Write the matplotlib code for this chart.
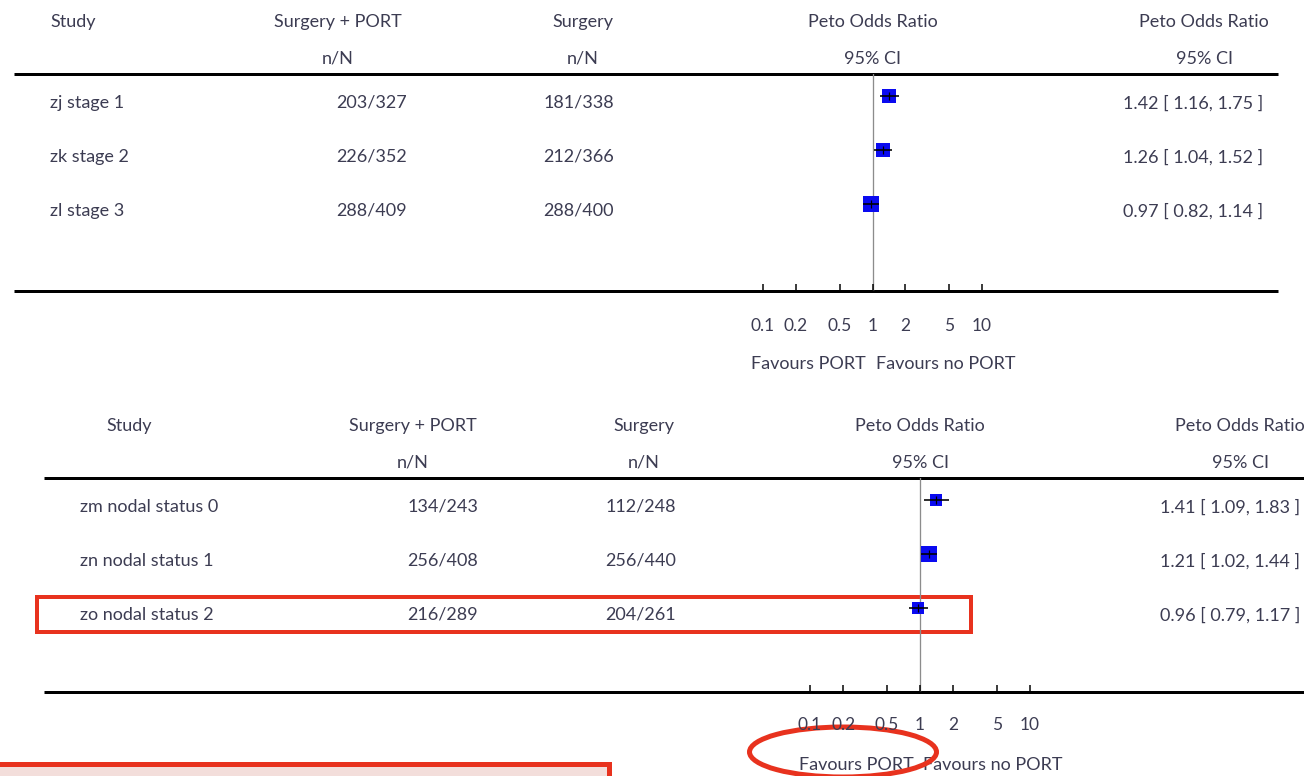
import numpy as np
import matplotlib
matplotlib.use("Agg")
import matplotlib.pyplot as plt
from matplotlib.patches import Rectangle, Ellipse

# ---- data -------------------------------------------------------------
stage_labels = ["zj stage 1", "zk stage 2", "zl stage 3"]
stage_port_n = [203, 226, 288]
stage_port_N = [327, 352, 409]
stage_surg_n = [181, 212, 288]
stage_surg_N = [338, 366, 400]
stage_or = [1.42, 1.26, 0.97]
stage_lo = [1.16, 1.04, 0.82]
stage_hi = [1.75, 1.52, 1.14]

nodal_labels = ["zm nodal status 0", "zn nodal status 1", "zo nodal status 2"]
nodal_port_n = [134, 256, 216]
nodal_port_N = [243, 408, 289]
nodal_surg_n = [112, 256, 204]
nodal_surg_N = [248, 440, 261]
nodal_or = [1.41, 1.21, 0.96]
nodal_lo = [1.09, 1.02, 0.79]
nodal_hi = [1.83, 1.44, 1.17]

tick_values = [0.1, 0.2, 0.5, 1, 2, 5, 10]
tick_labels = ["0.1", "0.2", "0.5", "1", "2", "5", "10"]

# ---- styling ----------------------------------------------------------
W, H, DPI = 1304, 776, 100
PT = 72.0 / DPI          # points per pixel
TXT = "#3c3c52"
RED = "#e8321e"
BLUE = "#0a0af0"
plt.rcParams["font.family"] = ["Lato", "DejaVu Sans"]
FS = 13
DY = 2                   # baseline nudge for vertically centred text

fig = plt.figure(figsize=(W / DPI, H / DPI), dpi=DPI)
canvas = fig.add_axes([0, 0, 1, 1])
canvas.set_xlim(0, W)
canvas.set_ylim(H, 0)
canvas.axis("off")


def txt(x, y, s, ha="center", size=FS):
    canvas.text(x, y + DY, s, ha=ha, va="center", color=TXT, fontsize=size)


def panel(layout, labels, pn, pN, sn, sN, orv, lo, hi):
    L = layout
    top, axis_y = L["line"], L["axis"]
    pitch = 54

    # header
    txt(L["study_hx"], top - 54, "Study", ha=L["study_ha"])
    txt(L["c1"], top - 54, "Surgery + PORT")
    txt(L["c1"], top - 17, "n/N")
    txt(L["c2"], top - 54, "Surgery")
    txt(L["c2"], top - 17, "n/N")
    txt(L["orx"], top - 54, "Peto Odds Ratio")
    txt(L["orx"], top - 17, "95% CI")
    txt(L["c4"], top - 54, "Peto Odds Ratio")
    txt(L["c4"], top - 17, "95% CI")
    canvas.plot([L["x0"], L["x1"]], [top, top], color="black", lw=3 * PT,
                solid_capstyle="butt")
    canvas.plot([L["x0"], L["x1"]], [axis_y, axis_y], color="black", lw=3 * PT,
                solid_capstyle="butt")

    # text rows
    for i in range(len(labels)):
        y = top + 27 + i * pitch
        txt(L["study_x"], y, labels[i], ha="left")
        txt(L["c1n"], y, f"{pn[i]}/{pN[i]}", ha="right")
        txt(L["c2n"], y, f"{sn[i]}/{sN[i]}", ha="right")
        txt(L["c4n"], y, f"{orv[i]:.2f} [ {lo[i]:.2f}, {hi[i]:.2f} ]", ha="right")

    # forest axes (log scale, 0.1..10)
    dec = L["decade"]
    xl = (L["orx"] - dec) / W
    xw = 2 * dec / W
    hgt = axis_y - top
    ax = fig.add_axes([xl, 1 - axis_y / H, xw, hgt / H])
    ax.set_xscale("log")
    ax.set_xlim(0.1, 10)
    ax.set_ylim((hgt - 22) / pitch, -22 / pitch)
    ax.patch.set_alpha(0)
    for s in ax.spines.values():
        s.set_visible(False)
    ax.set_yticks([])
    ax.set_xticks(tick_values)
    ax.set_xticklabels(tick_labels)
    ax.minorticks_off()
    ax.tick_params(axis="x", direction="in", length=7 * PT, width=1.5 * PT,
                   pad=L["pad"], labelsize=12.5, labelcolor=TXT, color="black")

    ax.axvline(1, color="#8c8c8c", lw=1.3 * PT, zorder=1)
    rows = np.arange(len(labels))
    for i in rows:
        size = 0.54 * np.sqrt(pN[i] + sN[i]) * PT
        ax.plot(orv[i], i, "s", color=BLUE, ms=size, mew=0, zorder=2, clip_on=False)
        ax.hlines(i, lo[i], hi[i], color="black", lw=1.6 * PT, zorder=3)
        ax.plot(orv[i], i, "|", color="black", ms=8 * PT, mew=1.2 * PT, zorder=4)

    txt(L["orx"] - 64, axis_y + 71, "Favours PORT")
    txt(L["orx"] + 73, axis_y + 71, "Favours no PORT")
    return ax


top_layout = dict(line=74, axis=291, x0=14, x1=1278, study_hx=50, study_ha="left",
                  study_x=50, c1=338, c1n=407, c2=583, c2n=614, orx=872.5,
                  decade=109.5, c4=1204, c4n=1263, pad=27 * PT)
bottom_layout = dict(line=478, axis=692, x0=44, x1=1304, study_hx=129, study_ha="center",
                     study_x=80, c1=413, c1n=478, c2=644, c2n=676, orx=920,
                     decade=110, c4=1240, c4n=1300, pad=25 * PT)

panel(top_layout, stage_labels, stage_port_n, stage_port_N, stage_surg_n,
      stage_surg_N, stage_or, stage_lo, stage_hi)
panel(bottom_layout, nodal_labels, nodal_port_n, nodal_port_N, nodal_surg_n,
      nodal_surg_N, nodal_or, nodal_lo, nodal_hi)

# red highlight marks
canvas.add_patch(Rectangle((37, 597), 934, 35, fill=False, ec=RED, lw=4 * PT, zorder=10))
canvas.add_patch(Ellipse((843, 752), 187, 50, fill=False, ec=RED, lw=5 * PT, zorder=10))
canvas.add_patch(Rectangle((-10, 764), 619, 40, fc="#f3dedb", ec=RED, lw=5 * PT, zorder=10))

fig.savefig("out.png", dpi=DPI)
